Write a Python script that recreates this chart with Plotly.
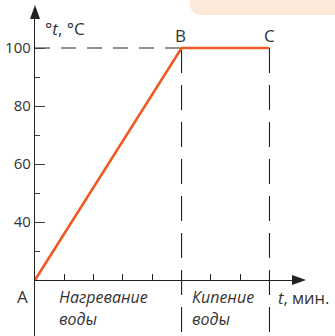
import plotly.graph_objects as go

# Data
time_min = [0, 5, 8]          # A, B, C
temp_c = [20, 100, 100]
point_labels = ["A", "B", "C"]
y_ticks = [40, 60, 80, 100]
y_minor = [30, 50, 70, 90]
x_ticks = [1, 2, 3, 4, 5, 6, 7, 8]

W, H = 335, 336
L = 35
PW = W - L
XD1 = 0.867
YD1 = 0.955
xr = [0, 8.874]
yr = [0.69, 111.34]
XAX_PX = 280

fig = go.Figure()

# dashed guides
fig.add_trace(go.Scatter(x=[time_min[0], time_min[1]], y=[temp_c[1], temp_c[1]], mode="lines",
                         line=dict(color="#222", width=1.1, dash="15px,11px"), hoverinfo="skip"))
for xv in time_min[1:]:
    fig.add_trace(go.Scatter(x=[xv, xv], y=[temp_c[1], yr[0]], mode="lines",
                             line=dict(color="#222", width=1.1, dash="25px,12px"), hoverinfo="skip"))

# main line
fig.add_trace(go.Scatter(x=time_min, y=temp_c, mode="lines",
                         line=dict(color="#EF5A24", width=2.6), hoverinfo="skip"))

# invisible trace to create the x2/y2 subplot used for the time axis
fig.add_trace(go.Scatter(x=[time_min[0]], y=[temp_c[0]], xaxis="x2", yaxis="y2", mode="markers",
                         marker=dict(opacity=0), hoverinfo="skip"))

fig.update_layout(
    width=W, height=H, margin=dict(l=L, r=0, t=0, b=0),
    plot_bgcolor="rgba(0,0,0,0)", paper_bgcolor="white", showlegend=False,
    font=dict(family="Open Sans", size=14, color="#333"),
    xaxis=dict(range=xr, domain=[0, XD1], visible=False, fixedrange=True),
    yaxis=dict(range=yr, domain=[0, YD1], showline=True, linecolor="#222", linewidth=1.3,
               tickmode="array", tickvals=y_ticks, ticks="inside", ticklen=10,
               tickcolor="#444", tickwidth=1.3, ticklabelstandoff=0,
               minor=dict(tickvals=y_minor, ticks="inside", ticklen=5, tickcolor="#444", tickwidth=1),
               tickfont=dict(size=15, color="#333"),
               showgrid=False, zeroline=False, fixedrange=True),
    xaxis2=dict(range=xr, domain=[0, XD1], anchor="y2", showline=True, linecolor="#222", linewidth=1.3,
                tickmode="array", tickvals=x_ticks, ticks="inside", ticklen=6,
                tickcolor="#222", tickwidth=1, showticklabels=False,
                showgrid=False, zeroline=False, fixedrange=True),
    yaxis2=dict(range=[temp_c[0], yr[1]], domain=[(H - XAX_PX) / H, YD1], anchor="x2",
                visible=False, fixedrange=True),
)

# decoration top right
fig.add_shape(type="path", xref="paper", yref="paper", layer="below",
              path="M {a},1.2 L 1.1,1.2 L 1.1,{b} L {c},{b} Q {a},{b} {a},{d} Z".format(
                  a=(190 - L) / PW, b=(H - 15) / H, c=(202 - L) / PW, d=(H - 3) / H),
              fillcolor="#FDE9DA", line=dict(width=0))

# arrowheads
fig.add_shape(type="path", xref="paper", yref="paper", xsizemode="pixel", ysizemode="pixel",
              xanchor=0, yanchor=(H - 5) / H, path="M -5,-14 L 5,-14 L 0,0 Z",
              fillcolor="#222", line=dict(width=0))
fig.add_shape(type="path", xref="paper", yref="paper", xsizemode="pixel", ysizemode="pixel",
              xanchor=(306 - L) / PW, yanchor=(H - XAX_PX) / H, path="M -14,-5 L -14,5 L 0,0 Z",
              fillcolor="#222", line=dict(width=0))

def ann(text, xpx, ypx, xanchor="left", size=14, italic=False):
    fig.add_annotation(text=text, xref="paper", yref="paper", x=(xpx - L) / PW, y=(H - ypx) / H,
                       xanchor=xanchor, yanchor="middle", showarrow=False,
                       font=dict(size=size, color="#333", family="Open Sans",
                                 style="italic" if italic else "normal"))

ann(point_labels[0], 22, 296, "center", 17)
ann(point_labels[1], 180, 36, "center", 17)
ann(point_labels[2], 269, 36, "center", 17)
ann("°<i>t</i>, °C", 43, 28, "left", 17)
ann("<i>t</i>, мин.", 276, 297, "left", 16.5)
ann("Нагревание", 57, 297, "left", 16, True)
ann("воды", 57, 319, "left", 16, True)
ann("Кипение", 190, 297, "left", 16, True)
ann("воды", 190, 319, "left", 16, True)

fig.write_html("out.html", config={"displayModeBar": False},
               post_script="document.body.style.margin='0px';")
